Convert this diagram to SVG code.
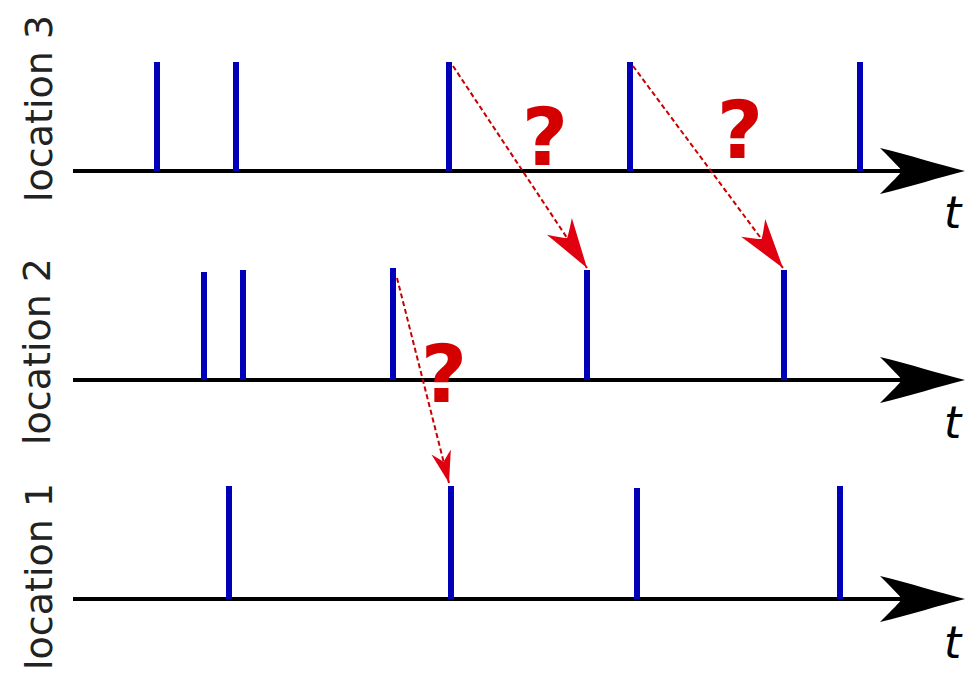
<svg xmlns="http://www.w3.org/2000/svg" width="966" height="673" viewBox="0 0 966 673">
<style>
.axis{stroke:#000;stroke-width:4;fill:none}
.spike{stroke:#0000b8;stroke-width:6;fill:none}
.conn{stroke:#c80000;stroke-width:2;stroke-dasharray:5,3;fill:none}
.lbl{font-family:"DejaVu Sans",sans-serif;font-size:38px;fill:#222}
.tl{font-family:"DejaVu Sans",sans-serif;font-style:italic;font-size:44px;fill:#000}
.q{font-family:"DejaVu Sans",sans-serif;font-weight:bold;font-size:80px;fill:#d40000;text-anchor:middle}
</style>
<defs>
<path id="ahead" d="M0,0 C-25,-6 -55,-16 -85,-23 C-72,-10 -66,-4 -63,0 C-66,4 -72,10 -85,23 C-55,16 -25,6 0,0 Z" fill="#000"/>
<marker id="mbig" markerUnits="userSpaceOnUse" markerWidth="60" markerHeight="40" viewBox="-52 -20 60 40" refX="0" refY="0" orient="auto">
<path d="M0,0 L-50,-15 Q-38,-3 -36,0 Q-38,3 -50,15 Z" fill="#e00010"/>
</marker>
<marker id="msmall" markerUnits="userSpaceOnUse" markerWidth="40" markerHeight="30" viewBox="-34 -15 40 30" refX="0" refY="0" orient="auto">
<path d="M0,0 L-32,-10 Q-24,-2 -22,0 Q-24,2 -32,10 Z" fill="#e00010"/>
</marker>
</defs>

<g id="location3">
<text class="lbl" transform="translate(52,202) rotate(-90)">location 3</text>
<line class="axis" x1="73" y1="171" x2="910" y2="171"/>
<use href="#ahead" x="965" y="171"/>
<text class="tl" x="944" y="228">t</text>
<line class="spike" x1="157" y1="62" x2="157" y2="171"/>
<line class="spike" x1="236" y1="62" x2="236" y2="171"/>
<line class="spike" x1="449" y1="62" x2="449" y2="171"/>
<line class="spike" x1="630" y1="62" x2="630" y2="171"/>
<line class="spike" x1="860" y1="62" x2="860" y2="171"/>
</g>

<g id="location2">
<text class="lbl" transform="translate(50,445) rotate(-90)">location 2</text>
<line class="axis" x1="73" y1="380" x2="910" y2="380"/>
<use href="#ahead" x="965" y="380"/>
<text class="tl" x="944" y="438">t</text>
<line class="spike" x1="204" y1="272" x2="204" y2="380"/>
<line class="spike" x1="243" y1="270" x2="243" y2="380"/>
<line class="spike" x1="393" y1="268" x2="393" y2="380"/>
<line class="spike" x1="587" y1="270" x2="587" y2="380"/>
<line class="spike" x1="784" y1="270" x2="784" y2="380"/>
</g>

<g id="location1">
<text class="lbl" transform="translate(52,670) rotate(-90)">location 1</text>
<line class="axis" x1="73" y1="599" x2="910" y2="599"/>
<use href="#ahead" x="965" y="599"/>
<text class="tl" x="944" y="658">t</text>
<line class="spike" x1="229" y1="486" x2="229" y2="599"/>
<line class="spike" x1="451" y1="486" x2="451" y2="599"/>
<line class="spike" x1="637" y1="488" x2="637" y2="599"/>
<line class="spike" x1="840" y1="486" x2="840" y2="599"/>
</g>

<g id="connectors">
<line class="conn" x1="453" y1="66" x2="587" y2="268" marker-end="url(#mbig)"/>
<line class="conn" x1="633" y1="66" x2="783" y2="268" marker-end="url(#mbig)"/>
<line class="conn" x1="397" y1="278" x2="449" y2="483" marker-end="url(#msmall)"/>
<text class="q" x="545" y="165">?</text>
<text class="q" x="740" y="158">?</text>
<text class="q" x="444" y="402">?</text>
</g>
</svg>
